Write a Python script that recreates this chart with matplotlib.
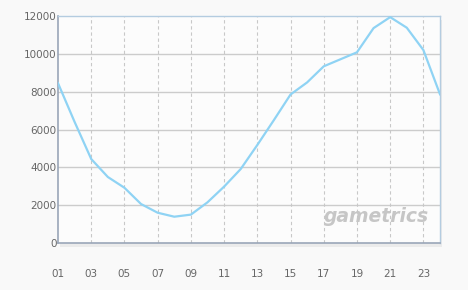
import matplotlib
matplotlib.use("Agg")
import matplotlib.pyplot as plt
from matplotlib.patches import Rectangle

hours = list(range(1, 25))
values = [8450, 6400, 4440, 3490, 2920, 2060, 1600, 1390, 1500, 2150, 2980, 3910,
          5180, 6500, 7850, 8490, 9340, 9710, 10080, 11360, 11940, 11380, 10200, 7860]
xtick_pos = list(range(1, 25, 2))
xtick_labels = ["%02d" % h for h in xtick_pos]
ytick_pos = [0, 2000, 4000, 6000, 8000, 10000, 12000]

W, H = 468, 290
fig = plt.figure(figsize=(W / 100, H / 100), dpi=100)
fig.patch.set_facecolor("#f9f9f9")
L, R, T, B = 58, 440, 16, 243
ax = fig.add_axes([L / W, 1 - B / H, (R - L) / W, (B - T) / H])
ax.set_facecolor("#fcfcfc")

# shadow
fig.patches.append(Rectangle(((L + 2) / W, 1 - (B + 4) / H), (R - L) / W, (B - T) / H,
                             transform=fig.transFigure, facecolor="#ebebeb",
                             edgecolor="none", zorder=-1))

ax.set_xlim(1, 24)
ax.set_ylim(0, 12000)
for y in ytick_pos[1:-1]:
    ax.axhline(y, color="#cccccc", lw=1, zorder=1)
for x in xtick_pos[1:]:
    ax.axvline(x, color="#c8c8c8", lw=0.8, ls=(0, (3, 2.5)), zorder=1)

ax.plot(hours, values, color="#8fd3f4", lw=1.6, zorder=3, solid_joinstyle="round")

ax.set_xticks(xtick_pos)
ax.set_xticklabels(xtick_labels)
ax.set_yticks(ytick_pos)
ax.tick_params(axis="both", length=0, labelsize=7.5, labelcolor="#666666")
ax.tick_params(axis="x", pad=19)
ax.tick_params(axis="y", pad=1)

for s in ["left", "bottom"]:
    ax.spines[s].set_color("#9aa6b8")
    ax.spines[s].set_linewidth(1.2)
for s in ["top", "right"]:
    ax.spines[s].set_color("#b4cce0")
    ax.spines[s].set_linewidth(1)

ax.text(0.97, 0.075, "gametrics", transform=ax.transAxes, ha="right", va="bottom",
        fontsize=13.5, fontweight="bold", style="italic", color="#c6c6c6", zorder=2)

fig.savefig("out.png", dpi=100, facecolor=fig.get_facecolor())
